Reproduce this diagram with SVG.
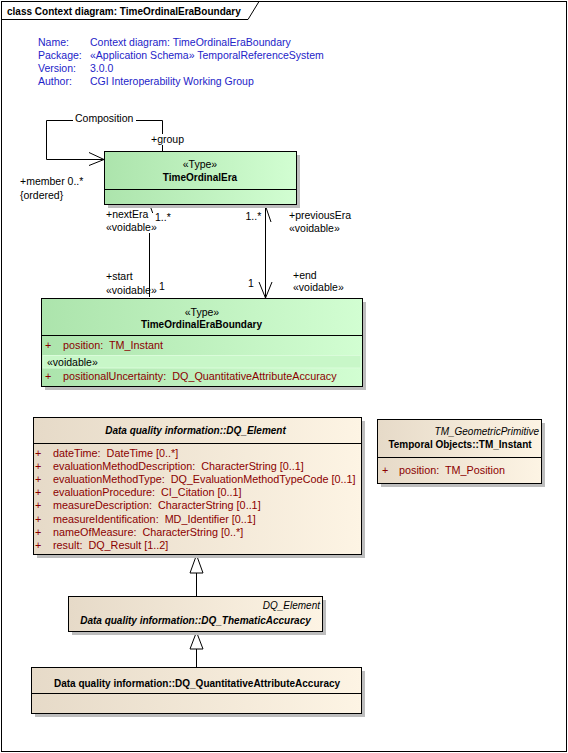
<svg xmlns="http://www.w3.org/2000/svg" width="568" height="753" viewBox="0 0 568 753">
<style>
text{font-family:"Liberation Sans",Arial,sans-serif;font-size:10.5px;fill:#000}
.b{font-weight:bold;font-size:10px}
.bi{font-weight:bold;font-style:italic;font-size:10px}
.i{font-style:italic;font-size:10px}
.hd{fill:#2323c8}
.at{fill:#8b0000;font-size:10.8px}
.m{text-anchor:middle}
.e{text-anchor:end}
.box{stroke:#000;stroke-width:1}
.sh{fill:#bdbdbd}
.ln{fill:none;stroke:#000;stroke-width:1}
</style>
<defs>
<linearGradient id="g" x1="0" y1="0" x2="1" y2="0"><stop offset="0" stop-color="#ace4ac"/><stop offset="1" stop-color="#d2fed2"/></linearGradient>
<linearGradient id="t" x1="0" y1="0" x2="1" y2="0"><stop offset="0" stop-color="#e6dac8"/><stop offset="1" stop-color="#fdf4e4"/></linearGradient>
</defs>
<rect x="0" y="0" width="568" height="753" fill="#fff"/>
<g id="frame">
<rect x="1.5" y="1.5" width="565" height="750" fill="none" stroke="#000"/>
<path d="M1.5,19.5 H248 L259,1.5" class="ln"/>
<text x="7" y="14.7" class="b">class Context diagram: TimeOrdinalEraBoundary</text>
</g>
<g id="header">
<text x="38" y="46" class="hd">Name:</text><text x="90" y="46" class="hd">Context diagram: TimeOrdinalEraBoundary</text>
<text x="38" y="59" class="hd">Package:</text><text x="90" y="59" class="hd">«Application Schema» TemporalReferenceSystem</text>
<text x="38" y="72" class="hd">Version:</text><text x="90" y="72" class="hd">3.0.0</text>
<text x="38" y="85" class="hd">Author:</text><text x="90" y="85" class="hd">CGI Interoperability Working Group</text>
</g>
<g id="connectors">
<path class="ln" d="M162.5,151 V145 M162.5,134 V120.5 H136 M73,120.5 H46.5 V159.5 H104"/>
<path class="ln" d="M89,152.5 L104,159.5 L89,165.5"/>
<text x="75" y="122">Composition</text>
<text x="151" y="142.7">+group</text>
<text x="20" y="185.4">+member 0..*</text>
<text x="20" y="198.7">{ordered}</text>
<path class="ln" d="M150,205.5 L152.7,213 M149.5,233 V297"/>
<text x="106" y="217.7">+nextEra</text>
<text x="106" y="231">«voidable»</text>
<text x="155" y="221">1..*</text>
<text x="106" y="279.7">+start</text>
<text x="106" y="294.4">«voidable»</text>
<text x="159" y="290">1</text>
<path class="ln" d="M265.5,206 V298 M265.5,206 L271,222 M259,282 L265.5,298 L272,282"/>
<text x="245.5" y="220">1..*</text>
<text x="289" y="218.7">+previousEra</text>
<text x="289" y="232">«voidable»</text>
<text x="293" y="278.7">+end</text>
<text x="293" y="291">«voidable»</text>
<text x="248" y="287">1</text>
<path class="ln" d="M196.5,573 V596 M196.5,649 V667"/>
<path d="M196.5,555 L190,573 H203 Z M196.5,632 L190,649 H203 Z" fill="#fff" stroke="#000"/>
</g>
<g id="TimeOrdinalEra">
<rect x="108" y="155" width="192" height="53" class="sh"/>
<rect x="104.5" y="151.5" width="192" height="53" fill="url(#g)" class="box"/>
<path d="M104.5,189.5 H296.5" class="ln"/>
<text x="200" y="167.7" class="m">«Type»</text>
<text x="200" y="180.5" class="m b">TimeOrdinalEra</text>
</g>
<g id="TimeOrdinalEraBoundary">
<rect x="45" y="302" width="321" height="88" class="sh"/>
<rect x="41.5" y="298.5" width="321" height="88" fill="url(#g)" class="box"/>
<path d="M41.5,335.5 H362.5" class="ln"/>
<text x="202" y="315.5" class="m">«Type»</text>
<text x="201.5" y="327.7" class="m b">TimeOrdinalEraBoundary</text>
<text x="45" y="348.7" class="at">+</text>
<text x="63" y="348.7" class="at" xml:space="preserve">position:  TM_Instant</text>
<rect x="43" y="355.5" width="318" height="12.5" fill="#c8f7c8" stroke="#dafcda"/>
<text x="47" y="365.7">«voidable»</text>
<text x="45" y="379.7" class="at">+</text>
<text x="63" y="379.7" class="at" xml:space="preserve">positionalUncertainty:  DQ_QuantitativeAttributeAccuracy</text>
</g>
<g id="DQ_Element">
<rect x="37" y="421" width="328" height="137" class="sh"/>
<rect x="33.5" y="417.5" width="328" height="137" fill="url(#t)" class="box"/>
<path d="M33.5,443.5 H361.5" class="ln"/>
<text x="195.5" y="434.4" class="m bi">Data quality information::DQ_Element</text>
<text x="35" y="457" class="at">+</text><text x="53" y="457" class="at" xml:space="preserve">dateTime:  DateTime [0..*]</text>
<text x="35" y="470.1" class="at">+</text><text x="53" y="470.1" class="at" xml:space="preserve">evaluationMethodDescription:  CharacterString [0..1]</text>
<text x="35" y="483.2" class="at">+</text><text x="53" y="483.2" class="at" xml:space="preserve">evaluationMethodType:  DQ_EvaluationMethodTypeCode [0..1]</text>
<text x="35" y="496.3" class="at">+</text><text x="53" y="496.3" class="at" xml:space="preserve">evaluationProcedure:  CI_Citation [0..1]</text>
<text x="35" y="509.4" class="at">+</text><text x="53" y="509.4" class="at" xml:space="preserve">measureDescription:  CharacterString [0..1]</text>
<text x="35" y="522.5" class="at">+</text><text x="53" y="522.5" class="at" xml:space="preserve">measureIdentification:  MD_Identifier [0..1]</text>
<text x="35" y="535.6" class="at">+</text><text x="53" y="535.6" class="at" xml:space="preserve">nameOfMeasure:  CharacterString [0..*]</text>
<text x="35" y="548.7" class="at">+</text><text x="53" y="548.7" class="at" xml:space="preserve">result:  DQ_Result [1..2]</text>
</g>
<g id="TM_Instant">
<rect x="381" y="423" width="164" height="64" class="sh"/>
<rect x="377.5" y="419.5" width="164" height="64" fill="url(#t)" class="box"/>
<path d="M377.5,457.5 H541.5" class="ln"/>
<text x="539" y="434.7" class="e i">TM_GeometricPrimitive</text>
<text x="460" y="447.7" class="m b">Temporal Objects::TM_Instant</text>
<text x="382" y="473.7" class="at">+</text>
<text x="399" y="473.7" class="at" xml:space="preserve">position:  TM_Position</text>
</g>
<g id="DQ_ThematicAccuracy">
<rect x="72" y="600" width="254" height="35" class="sh"/>
<rect x="68.5" y="596.5" width="254" height="35" fill="url(#t)" class="box"/>
<text x="320" y="608.7" class="e i">DQ_Element</text>
<text x="195.5" y="623.7" class="m bi">Data quality information::DQ_ThematicAccuracy</text>
</g>
<g id="DQ_QuantitativeAttributeAccuracy">
<rect x="35" y="671" width="330" height="46" class="sh"/>
<rect x="31.5" y="667.5" width="330" height="46" fill="url(#t)" class="box"/>
<path d="M31.5,693.5 H361.5" class="ln"/>
<text x="197" y="686.7" class="m b">Data quality information::DQ_QuantitativeAttributeAccuracy</text>
</g>
</svg>
